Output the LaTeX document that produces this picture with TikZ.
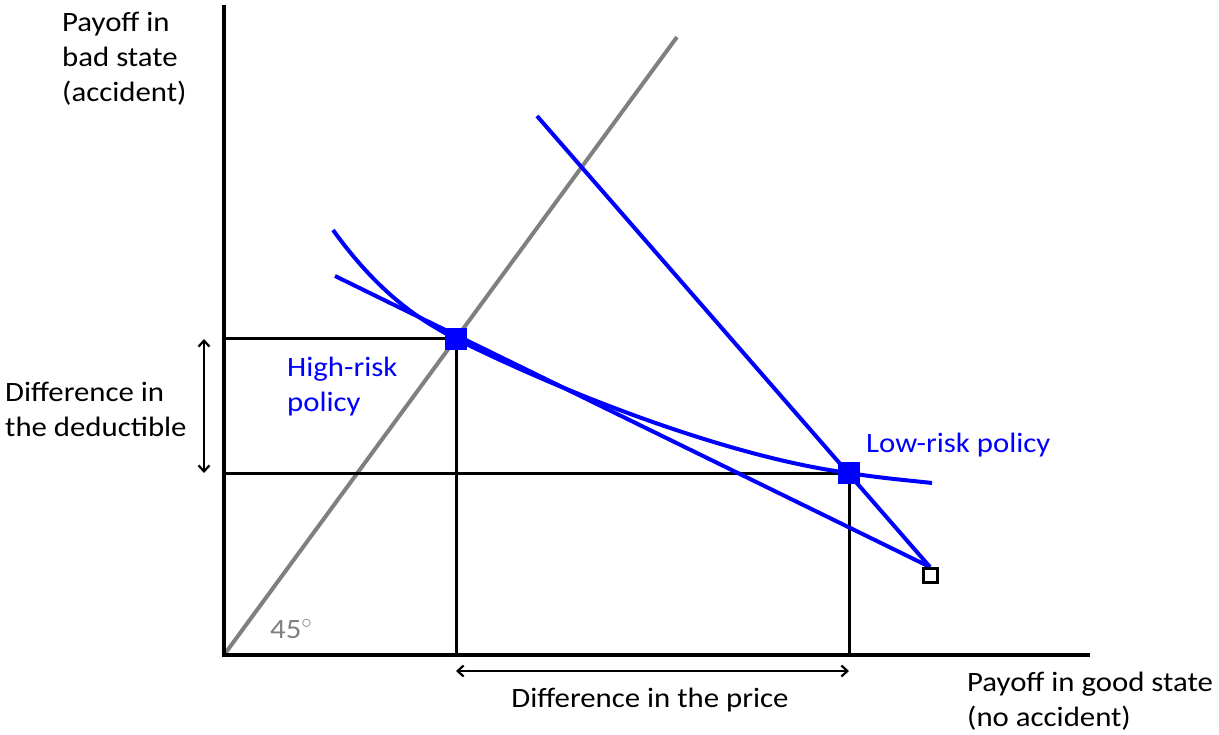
\documentclass[tikz,border=0pt]{standalone}
\usepackage{fontspec}
\setmainfont[FakeStretch=1.1]{Carlito}
\usetikzlibrary{arrows.meta}
\definecolor{bl}{RGB}{0,0,255}
\definecolor{gr}{RGB}{128,128,128}
\tikzset{
  axis/.style={line width=4.5pt,black},
  guide/.style={line width=3pt,black},
  blueline/.style={line width=4pt,bl},
  dblarrow/.style={line width=2.2pt,{Straight Barb[length=6pt,width=11pt]}-{Straight Barb[length=6pt,width=11pt]}},
  lbl/.style={font=\fontsize{28}{35}\selectfont,align=left,inner sep=0pt},
  bsq/.style={fill=bl,minimum size=22pt,inner sep=0pt},
  osq/.style={draw=black,line width=3pt,fill=white,minimum size=14pt,inner sep=0pt}
}
\begin{document}
\begin{tikzpicture}[x=1pt,y=-1pt]
\useasboundingbox (0,0) rectangle (1219,735);
% coordinates
\coordinate (O) at (224,655);
\coordinate (ytop) at (224,5);
\coordinate (xend) at (1090,655);
\coordinate (d45) at (677,37);
\coordinate (H) at (456,339);
\coordinate (L) at (849,473);
\coordinate (Hy) at (224,339);
\coordinate (Ly) at (224,473);
\coordinate (Hx) at (456,655);
\coordinate (Lx) at (849,655);
\coordinate (lrtop) at (537,116);
\coordinate (hrtop) at (335,276);
\coordinate (ictop) at (333,230);
\coordinate (icend) at (932,483);
\coordinate (E) at (930,575);
% 45 degree line
\draw[line width=4pt,gr] (O) -- (d45);
% guides
\draw[guide] (Hy) -- (H) -- (Hx);
\draw[guide] (Ly) -- (L) -- (Lx);
% axes
\draw[axis] (ytop) -- (O) -- (xend);
% budget lines
\draw[blueline] (lrtop) -- (930,567);
\draw[blueline] (hrtop) -- (930,567);
% indifference curve
\draw[blueline] (ictop) .. controls (380,295) and (420,320) .. (H)
   .. controls (600,410) and (750,460) .. (L)
   .. controls (880,478) and (905,480) .. (icend);
% points
\node[bsq] (Hn) at (H) {};
\node[bsq] (Ln) at (L) {};
\node[osq] (En) at (E) {};
% double arrows
\coordinate (a1) at (204,339);
\coordinate (a2) at (204,473);
\coordinate (b1) at (456,671);
\coordinate (b2) at (849,671);
\draw[dblarrow] (a1) -- (a2);
\draw[dblarrow] (b1) -- (b2);
% labels
\node[lbl,anchor=north west] (ylab) at (62,12) {Payoff in\\bad state\\(accident)};
\node[lbl,anchor=north west] (dd) at (5,382) {Difference in\\the deductible};
\node[lbl,anchor=north west,text=bl] (hr) at (287,357) {High-risk\\policy};
\node[lbl,anchor=base west,text=bl] (lr) at (866,453) {Low-risk policy};
\node[lbl,anchor=base west,text=gr] (ang) at (270,638) {45$^\circ$};
\node[lbl,anchor=base] (dp) at (650,707) {Difference in the price};
\node[lbl,anchor=north west] (xlab) at (967,672) {Payoff in good state\\(no accident)};
\end{tikzpicture}
\end{document}
